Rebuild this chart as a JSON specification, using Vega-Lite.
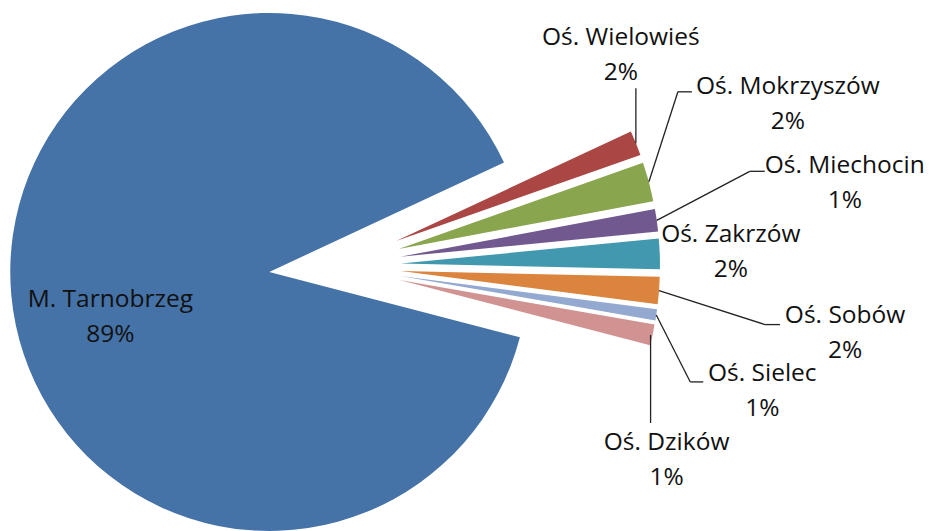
{
  "$schema": "https://vega.github.io/schema/vega-lite/v6.json",
  "width": 935,
  "height": 531,
  "padding": 0,
  "autosize": "none",
  "background": "#ffffff",
  "view": {"stroke": null},
  "data": {
    "values": [
      {"name": "M. Tarnobrzeg", "value": 89.0},
      {"name": "Oś. Wielowieś", "value": 1.55},
      {"name": "Oś. Mokrzyszów", "value": 2.45},
      {"name": "Oś. Miechocin", "value": 1.4},
      {"name": "Oś. Zakrzów", "value": 1.9},
      {"name": "Oś. Sobów", "value": 1.7},
      {"name": "Oś. Sielec", "value": 0.7},
      {"name": "Oś. Dzików", "value": 1.3}
    ]
  },
  "transform": [
    {"window": [{"op": "row_number", "as": "idx"}]},
    {"window": [{"op": "sum", "field": "value", "as": "cum"}], "sort": [{"field": "idx"}], "frame": [null, 0]},
    {"calculate": "datum.cum - datum.value", "as": "t0"},
    {"calculate": "1.8256 + (datum.t0 + datum.value / 2) / 100 * 2 * PI", "as": "mid"},
    {"calculate": "0.2548 * sin(datum.mid)", "as": "ex"},
    {"calculate": "0.2548 * cos(datum.mid)", "as": "ey"},
    {"calculate": "1.2548 * sin(datum.mid)", "as": "ax"},
    {"calculate": "1.2548 * cos(datum.mid)", "as": "ay"},
    {"calculate": "[datum.name, format(datum.value, '.0f') + '%']", "as": "label"}
  ],
  "encoding": {
    "x": {"field": "ax", "type": "quantitative", "scale": {"domain": [-1.2934, 2.3166], "nice": false, "zero": false}, "axis": null},
    "y": {"field": "ay", "type": "quantitative", "scale": {"domain": [-1.0232, 1.027], "nice": false, "zero": false}, "axis": null}
  },
  "layer": [
    {
      "mark": {"type": "arc", "radius": 259},
      "encoding": {
        "x": {"field": "ex", "type": "quantitative", "scale": {"domain": [-1.2934, 2.3166], "nice": false, "zero": false}, "axis": null},
        "y": {"field": "ey", "type": "quantitative", "scale": {"domain": [-1.0232, 1.027], "nice": false, "zero": false}, "axis": null},
        "theta": {"field": "t0", "type": "quantitative", "stack": null, "scale": {"domain": [0, 100], "range": [1.8256, 8.1088]}},
        "theta2": {"field": "cum"},
        "color": {
          "field": "name", "type": "nominal", "legend": null,
          "scale": {
            "domain": ["M. Tarnobrzeg", "Oś. Wielowieś", "Oś. Mokrzyszów", "Oś. Miechocin", "Oś. Zakrzów", "Oś. Sobów", "Oś. Sielec", "Oś. Dzików"],
            "range": ["#4572A7", "#AA4643", "#89A54E", "#71588F", "#4198AF", "#DB843D", "#93A9CF", "#D19392"]
          }
        }
      }
    },
    {"transform": [{"filter": "datum.name === 'Oś. Wielowieś'"}], "mark": {"type": "rule", "color": "#222", "strokeWidth": 1.3, "y2Offset": -55}, "encoding": {"x2": {"field": "ax"}, "y2": {"field": "ay"}}},
    {"transform": [{"filter": "datum.name === 'Oś. Mokrzyszów'"}], "mark": {"type": "rule", "color": "#222", "strokeWidth": 1.3, "x2Offset": 29, "y2Offset": -90}, "encoding": {"x2": {"field": "ax"}, "y2": {"field": "ay"}}},
    {"transform": [{"filter": "datum.name === 'Oś. Mokrzyszów'"}], "mark": {"type": "rule", "color": "#222", "strokeWidth": 1.3, "xOffset": 29, "yOffset": -90, "x2Offset": 43, "y2Offset": -90}, "encoding": {"x2": {"field": "ax"}, "y2": {"field": "ay"}}},
    {"transform": [{"filter": "datum.name === 'Oś. Miechocin'"}], "mark": {"type": "rule", "color": "#222", "strokeWidth": 1.3, "x2Offset": 93, "y2Offset": -49}, "encoding": {"x2": {"field": "ax"}, "y2": {"field": "ay"}}},
    {"transform": [{"filter": "datum.name === 'Oś. Miechocin'"}], "mark": {"type": "rule", "color": "#222", "strokeWidth": 1.3, "xOffset": 93, "yOffset": -49, "x2Offset": 108, "y2Offset": -49}, "encoding": {"x2": {"field": "ax"}, "y2": {"field": "ay"}}},
    {"transform": [{"filter": "datum.name === 'Oś. Sobów'"}], "mark": {"type": "rule", "color": "#222", "strokeWidth": 1.3, "x2Offset": 106, "y2Offset": 34}, "encoding": {"x2": {"field": "ax"}, "y2": {"field": "ay"}}},
    {"transform": [{"filter": "datum.name === 'Oś. Sobów'"}], "mark": {"type": "rule", "color": "#222", "strokeWidth": 1.3, "xOffset": 106, "yOffset": 34, "x2Offset": 121, "y2Offset": 34}, "encoding": {"x2": {"field": "ax"}, "y2": {"field": "ay"}}},
    {"transform": [{"filter": "datum.name === 'Oś. Sielec'"}], "mark": {"type": "rule", "color": "#222", "strokeWidth": 1.3, "x2Offset": 34, "y2Offset": 67}, "encoding": {"x2": {"field": "ax"}, "y2": {"field": "ay"}}},
    {"transform": [{"filter": "datum.name === 'Oś. Sielec'"}], "mark": {"type": "rule", "color": "#222", "strokeWidth": 1.3, "xOffset": 34, "yOffset": 67, "x2Offset": 47, "y2Offset": 67}, "encoding": {"x2": {"field": "ax"}, "y2": {"field": "ay"}}},
    {"transform": [{"filter": "datum.name === 'Oś. Dzików'"}], "mark": {"type": "rule", "color": "#222", "strokeWidth": 1.3, "xOffset": -2, "x2Offset": -2, "y2Offset": 88}, "encoding": {"x2": {"field": "ax"}, "y2": {"field": "ay"}}},
    {"transform": [{"filter": "datum.name === 'M. Tarnobrzeg'"}], "mark": {"type": "text", "font": "Open Sans", "fontSize": 24.5, "lineHeight": 35, "color": "#111", "align": "center", "baseline": "middle", "dx": 99, "dy": 5}, "encoding": {"text": {"field": "label"}}},
    {"transform": [{"filter": "datum.name === 'Oś. Wielowieś'"}], "mark": {"type": "text", "font": "Open Sans", "fontSize": 24.5, "lineHeight": 35, "color": "#111", "align": "center", "baseline": "middle", "dx": -15, "dy": -105}, "encoding": {"text": {"field": "label"}}},
    {"transform": [{"filter": "datum.name === 'Oś. Mokrzyszów'"}], "mark": {"type": "text", "font": "Open Sans", "fontSize": 24.5, "lineHeight": 35, "color": "#111", "align": "center", "baseline": "middle", "dx": 139, "dy": -95}, "encoding": {"text": {"field": "label"}}},
    {"transform": [{"filter": "datum.name === 'Oś. Miechocin'"}], "mark": {"type": "text", "font": "Open Sans", "fontSize": 24.5, "lineHeight": 35, "color": "#111", "align": "center", "baseline": "middle", "dx": 188, "dy": -54}, "encoding": {"text": {"field": "label"}}},
    {"transform": [{"filter": "datum.name === 'Oś. Zakrzów'"}], "mark": {"type": "text", "font": "Open Sans", "fontSize": 24.5, "lineHeight": 35, "color": "#111", "align": "center", "baseline": "middle", "dx": 71, "dy": -19}, "encoding": {"text": {"field": "label"}}},
    {"transform": [{"filter": "datum.name === 'Oś. Sobów'"}], "mark": {"type": "text", "font": "Open Sans", "fontSize": 24.5, "lineHeight": 35, "color": "#111", "align": "center", "baseline": "middle", "dx": 186, "dy": 25}, "encoding": {"text": {"field": "label"}}},
    {"transform": [{"filter": "datum.name === 'Oś. Sielec'"}], "mark": {"type": "text", "font": "Open Sans", "fontSize": 24.5, "lineHeight": 35, "color": "#111", "align": "center", "baseline": "middle", "dx": 106, "dy": 59}, "encoding": {"text": {"field": "label"}}},
    {"transform": [{"filter": "datum.name === 'Oś. Dzików'"}], "mark": {"type": "text", "font": "Open Sans", "fontSize": 24.5, "lineHeight": 35, "color": "#111", "align": "center", "baseline": "middle", "dx": 14, "dy": 108}, "encoding": {"text": {"field": "label"}}}
  ]
}
